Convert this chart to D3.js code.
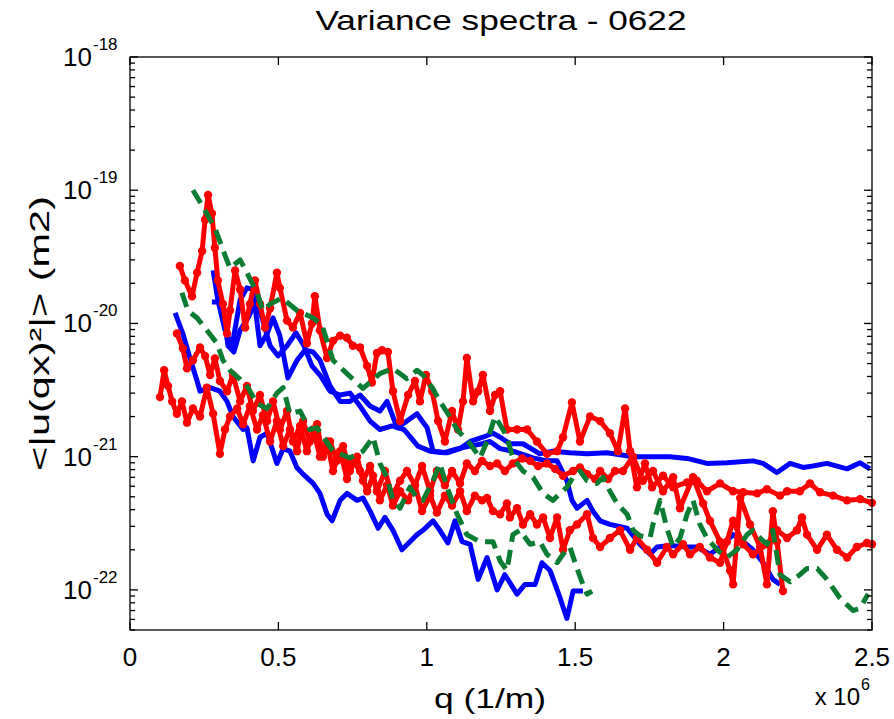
<!DOCTYPE html>
<html lang="en">
<head>
<meta charset="UTF-8">
<title>Variance spectra - 0622</title>
<script src="https://cdn.jsdelivr.net/npm/d3@7"></script>
<style>
  body { margin: 0; background: #fff; }
  text { font-family: "Liberation Sans", Arial, sans-serif; fill: #000; }
</style>
</head>
<body>
<div id="chart"></div>
<script>
// q values are in units of 10^6 1/m, variance in m^2
var qUnit = 1e6;

var blueLow = [[0.152,1.2e-20],[0.178,8.4e-21],[0.202,5.5e-21],[0.226,3.7e-21],[0.236,3.1e-21],[0.270,3.3e-21],[0.303,3.1e-21],[0.327,2.6e-21],[0.347,2.0e-21],[0.381,1.6e-21],[0.394,1.65e-21],[0.415,9.3e-22],[0.438,1.4e-21],[0.462,1.5e-21],[0.495,8.9e-22],[0.516,1.15e-21],[0.539,1.1e-21],[0.562,8.3e-22],[0.583,7.4e-22],[0.617,6.3e-22],[0.640,5.3e-22],[0.664,3.7e-22],[0.681,3.3e-22],[0.708,4.7e-22],[0.731,5.3e-22],[0.765,4.7e-22],[0.785,4.9e-22],[0.809,3.9e-22],[0.836,2.9e-22],[0.859,3.5e-22],[0.886,2.8e-22],[0.916,2.0e-22],[0.943,2.3e-22],[0.967,2.6e-22],[0.987,2.8e-22],[1.021,3.3e-22],[1.044,2.8e-22],[1.071,2.25e-22],[1.095,3.3e-22],[1.119,2.3e-22],[1.146,2.2e-22],[1.173,1.2e-22],[1.203,1.75e-22],[1.237,1.0e-22],[1.263,1.3e-22],[1.304,9.3e-23],[1.331,1.1e-22],[1.365,1.1e-22],[1.388,1.6e-22],[1.415,1.4e-22],[1.449,8.7e-23],[1.472,6.1e-23],[1.493,9.8e-23],[1.526,9.8e-23]];

var blueFlat = [[0.280,2.5e-20],[0.296,1.5e-20],[0.320,8.9e-21],[0.344,6.8e-21],[0.371,1.5e-20],[0.394,1.85e-20],[0.414,1.8e-20],[0.438,6.8e-21],[0.462,8.4e-21],[0.482,1.1e-20],[0.505,8.1e-21],[0.532,3.9e-21],[0.563,5.3e-21],[0.590,6.3e-21],[0.617,6.1e-21],[0.640,5.3e-21],[0.674,3.4e-21],[0.708,2.6e-21],[0.741,2.6e-21],[0.775,2.9e-21],[0.809,2.4e-21],[0.842,2.2e-21],[0.866,2.6e-21],[0.900,1.65e-21],[0.933,1.85e-21],[0.967,2.1e-21],[1.001,1.65e-21],[1.021,1.1e-21],[1.068,1.07e-21],[1.112,1.15e-21],[1.146,1.3e-21],[1.189,1.4e-21],[1.223,1.5e-21],[1.247,1.4e-21],[1.280,1.25e-21],[1.324,1.25e-21],[1.381,1.05e-21],[1.425,1.1e-21],[1.482,1.07e-21],[1.540,1.05e-21],[1.607,1.07e-21],[1.695,1.0e-21],[1.769,1.0e-21],[1.819,1.0e-21],[1.877,9.7e-22],[1.944,8.9e-22],[2.011,9.0e-22],[2.099,9.3e-22],[2.133,8.9e-22],[2.180,7.6e-22],[2.224,8.9e-22],[2.268,8.3e-22],[2.301,8.5e-22],[2.348,8.9e-22],[2.416,8.1e-22],[2.460,9.0e-22],[2.493,8.1e-22]];

var blueMid = [[0.276,1.45e-20],[0.310,1.45e-20],[0.330,6.8e-21],[0.350,6.1e-21],[0.371,8.9e-21],[0.398,1.1e-20],[0.425,1.5e-20],[0.445,1.1e-20],[0.472,6.8e-21],[0.499,5.7e-21],[0.529,6.8e-21],[0.559,8.5e-21],[0.586,6.8e-21],[0.613,4.8e-21],[0.640,4.1e-21],[0.674,3.1e-21],[0.708,2.9e-21],[0.741,3.0e-21],[0.775,2.4e-21],[0.809,1.85e-21],[0.842,1.6e-21],[0.883,1.7e-21],[0.923,1.6e-21],[0.970,1.2e-21],[1.011,1.1e-21],[1.058,1.07e-21],[1.105,1.15e-21],[1.146,1.2e-21],[1.186,1.25e-21],[1.213,1.3e-21],[1.247,1.15e-21],[1.290,1.1e-21],[1.358,9.8e-22],[1.405,9.3e-22],[1.439,9.3e-22],[1.472,6.6e-22],[1.489,4.7e-22],[1.506,4.1e-22],[1.540,4.7e-22],[1.560,3.9e-22],[1.584,3.3e-22],[1.617,3.1e-22],[1.675,2.9e-22],[1.718,2.2e-22],[1.752,1.85e-22],[1.776,2.1e-22],[1.819,2.15e-22],[1.877,2.1e-22],[1.910,2.1e-22],[1.954,1.85e-22],[1.988,2.1e-22],[2.032,2.6e-22],[2.066,2.3e-22],[2.099,2.0e-22],[2.133,1.6e-22],[2.166,1.2e-22],[2.190,1.1e-22]];

var redUpper = [[0.168,2.7e-20],[0.185,2.1e-20],[0.209,1.6e-20],[0.226,2.4e-20],[0.243,3.5e-20],[0.253,6.0e-20],[0.263,9.2e-20],[0.276,6.7e-20],[0.286,3.7e-20],[0.296,2.1e-20],[0.313,1.4e-20],[0.327,8.4e-21],[0.337,1.25e-20],[0.354,2.5e-20],[0.371,1.8e-20],[0.388,9.3e-21],[0.404,1.4e-20],[0.421,2.1e-20],[0.438,1.4e-20],[0.455,9.3e-21],[0.472,1.3e-20],[0.495,2.4e-20],[0.505,1.85e-20],[0.529,1.05e-20],[0.549,9.3e-21],[0.573,1.2e-20],[0.596,7.1e-21],[0.613,1.0e-20],[0.623,1.6e-20],[0.640,8.9e-21],[0.664,5.5e-21],[0.684,7.4e-21],[0.708,8.1e-21],[0.731,7.8e-21],[0.751,6.8e-21],[0.775,6.6e-21],[0.799,4.8e-21],[0.815,3.6e-21],[0.832,6.0e-21],[0.849,6.3e-21],[0.869,6.1e-21],[0.886,3.1e-21],[0.910,1.85e-21],[0.937,2.9e-21],[0.960,3.7e-21],[0.977,2.6e-21],[0.997,4.1e-21],[1.018,3.1e-21],[1.038,1.85e-21],[1.061,1.3e-21],[1.085,2.2e-21],[1.105,1.6e-21],[1.122,2.6e-21],[1.135,5.5e-21],[1.156,2.6e-21],[1.173,3.1e-21],[1.189,4.1e-21],[1.213,2.2e-21],[1.230,2.9e-21],[1.247,3.1e-21],[1.270,1.6e-21],[1.304,1.6e-21],[1.338,1.6e-21],[1.371,1.3e-21],[1.405,1.05e-21],[1.439,1.1e-21],[1.459,1.4e-21],[1.489,2.55e-21],[1.516,1.3e-21],[1.550,2.0e-21],[1.584,1.85e-21],[1.617,1.5e-21],[1.644,1.1e-21],[1.668,2.3e-21],[1.685,1.1e-21],[1.708,5.9e-22],[1.735,8.9e-22],[1.759,5.9e-22],[1.796,7.2e-22],[1.830,5.9e-22],[1.877,6.4e-22],[1.910,6.6e-22],[1.944,5.5e-22],[1.988,6.3e-22],[2.032,5.5e-22],[2.066,5.4e-22],[2.113,5.3e-22],[2.146,5.7e-22],[2.190,5.1e-22],[2.214,5.5e-22],[2.257,5.5e-22],[2.291,6.3e-22],[2.325,5.4e-22],[2.369,5.1e-22],[2.416,4.7e-22],[2.460,4.8e-22],[2.500,4.5e-22]];

var redLow = [[0.101,2.8e-21],[0.115,4.45e-21],[0.128,3.4e-21],[0.142,2.6e-21],[0.158,2.1e-21],[0.175,2.6e-21],[0.192,1.8e-21],[0.212,2.3e-21],[0.236,2.0e-21],[0.259,3.3e-21],[0.280,2.1e-21],[0.303,1.05e-21],[0.320,1.6e-21],[0.337,2.0e-21],[0.361,2.3e-21],[0.381,1.75e-21],[0.404,2.4e-21],[0.428,1.6e-21],[0.448,2.05e-21],[0.472,1.3e-21],[0.495,1.85e-21],[0.516,1.2e-21],[0.539,1.6e-21],[0.563,1.1e-21],[0.583,1.85e-21],[0.606,1.3e-21],[0.630,1.75e-21],[0.650,1.0e-21],[0.674,1.3e-21],[0.697,9.3e-22],[0.718,1.2e-21],[0.741,7.8e-22],[0.765,1.0e-21],[0.785,6.6e-22],[0.809,8.5e-22],[0.832,5.5e-22],[0.859,7.8e-22],[0.883,5.1e-22],[0.910,6.6e-22],[0.933,7.8e-22],[0.960,6.1e-22],[0.984,8.5e-22],[1.011,5.5e-22],[1.034,7.8e-22],[1.061,6.1e-22],[1.085,7.8e-22],[1.112,6.3e-22],[1.135,8.9e-22],[1.162,7.8e-22],[1.186,9.3e-22],[1.213,8.5e-22],[1.237,8.9e-22],[1.263,7.8e-22],[1.290,8.9e-22],[1.321,9.7e-22],[1.348,9.3e-22],[1.375,8.5e-22],[1.405,8.9e-22],[1.432,8.1e-22],[1.459,7.2e-22],[1.493,7.8e-22],[1.516,8.3e-22],[1.540,7.4e-22],[1.567,6.8e-22],[1.584,7.8e-22],[1.611,6.8e-22],[1.634,7.8e-22],[1.661,7.8e-22],[1.695,1.0e-21],[1.728,6.6e-22],[1.762,7.8e-22],[1.796,5.5e-22],[1.830,7.0e-22],[1.853,4.1e-22],[1.897,7.0e-22],[1.931,4.45e-22],[1.954,3.3e-22],[1.988,2.3e-22],[2.022,1.4e-22],[2.032,1.1e-22],[2.056,4.9e-22],[2.089,3.1e-22],[2.123,2.1e-22],[2.146,1.1e-22],[2.166,3.9e-22],[2.180,2.3e-22],[2.200,9.8e-23]];

var redMid = [[0.158,8.4e-21],[0.178,6.5e-21],[0.192,4.6e-21],[0.212,5.3e-21],[0.236,6.6e-21],[0.253,5.7e-21],[0.270,4.1e-21],[0.286,5.45e-21],[0.303,3.7e-21],[0.327,3.1e-21],[0.347,4.1e-21],[0.371,2.6e-21],[0.394,3.4e-21],[0.414,2.2e-21],[0.438,2.9e-21],[0.462,1.85e-21],[0.482,2.6e-21],[0.505,1.6e-21],[0.529,2.2e-21],[0.549,1.3e-21],[0.573,1.7e-21],[0.596,1.1e-21],[0.617,1.6e-21],[0.640,1.0e-21],[0.664,1.3e-21],[0.684,7.8e-22],[0.708,1.1e-21],[0.731,6.8e-22],[0.751,9.3e-22],[0.775,7.8e-22],[0.799,5.5e-22],[0.819,7.2e-22],[0.842,4.7e-22],[0.866,6.1e-22],[0.886,4.3e-22],[0.910,5.5e-22],[0.937,4.7e-22],[0.960,6.1e-22],[0.984,3.9e-22],[1.011,5.1e-22],[1.034,3.8e-22],[1.061,5.1e-22],[1.085,4.3e-22],[1.112,5.5e-22],[1.135,3.9e-22],[1.162,5.1e-22],[1.186,4.7e-22],[1.203,4.9e-22],[1.223,3.9e-22],[1.247,3.7e-22],[1.270,4.45e-22],[1.280,3.5e-22],[1.304,4.1e-22],[1.324,3.1e-22],[1.348,3.7e-22],[1.371,3.1e-22],[1.392,3.5e-22],[1.415,2.45e-22],[1.439,3.5e-22],[1.459,2.0e-22],[1.482,2.8e-22],[1.506,3.1e-22],[1.540,3.7e-22],[1.560,2.45e-22],[1.584,2.1e-22],[1.617,2.45e-22],[1.651,2.8e-22],[1.685,2.0e-22],[1.708,2.45e-22],[1.742,2.0e-22],[1.776,1.6e-22],[1.809,2.1e-22],[1.830,1.85e-22],[1.863,2.2e-22],[1.887,1.85e-22],[1.920,2.1e-22],[1.954,1.75e-22],[1.988,1.6e-22],[2.011,2.3e-22],[2.032,3.3e-22],[2.066,2.2e-22],[2.099,1.85e-22],[2.146,2.2e-22],[2.180,2.8e-22],[2.214,2.45e-22],[2.247,2.8e-22],[2.264,3.5e-22],[2.281,2.6e-22],[2.315,2.0e-22],[2.348,2.6e-22],[2.382,2.0e-22],[2.416,1.75e-22],[2.449,2.1e-22],[2.483,2.25e-22],[2.500,2.2e-22]];

var greenTop = [[0.212,1.0e-19],[0.243,7.7e-20],[0.286,5.2e-20],[0.320,3.25e-20],[0.337,2.6e-20],[0.371,3.0e-20],[0.394,2.4e-20],[0.428,1.7e-20],[0.448,1.25e-20],[0.472,1.4e-20],[0.512,1.55e-20],[0.563,1.25e-20],[0.617,1.1e-20],[0.647,9.7e-21],[0.684,5.3e-21],[0.731,4.2e-21],[0.785,3.25e-21],[0.842,4.2e-21],[0.886,4.6e-21],[0.933,3.85e-21],[0.967,4.45e-21],[0.987,4.1e-21],[1.018,3.3e-21],[1.044,2.6e-21],[1.071,2.1e-21],[1.102,1.6e-21],[1.146,1.25e-21],[1.179,9.8e-22],[1.203,1.3e-21],[1.230,2.0e-21],[1.253,1.65e-21],[1.270,1.4e-21],[1.290,9.8e-22],[1.324,7.8e-22],[1.358,7.0e-22],[1.392,5.3e-22],[1.425,4.7e-22],[1.449,5.3e-22],[1.472,5.9e-22],[1.493,7.0e-22],[1.516,7.8e-22],[1.540,6.6e-22],[1.573,6.3e-22],[1.594,7.0e-22],[1.617,5.5e-22],[1.641,4.45e-22],[1.675,3.7e-22],[1.695,2.8e-22],[1.718,2.55e-22],[1.752,2.45e-22],[1.762,3.1e-22],[1.786,4.7e-22],[1.809,2.9e-22],[1.830,2.1e-22],[1.853,2.45e-22],[1.877,3.7e-22],[1.897,4.7e-22],[1.920,3.1e-22],[1.944,2.45e-22],[1.978,2.0e-22],[2.011,1.75e-22],[2.045,2.0e-22],[2.079,2.6e-22],[2.099,2.8e-22],[2.123,2.45e-22],[2.146,2.2e-22],[2.166,2.8e-22],[2.190,1.3e-22],[2.224,1.15e-22],[2.257,1.3e-22],[2.281,1.45e-22],[2.315,1.45e-22],[2.348,1.2e-22],[2.392,8.7e-23],[2.436,7.0e-23],[2.460,7.3e-23],[2.487,9.3e-23]];

var greenLow = [[0.175,1.7e-20],[0.195,1.25e-20],[0.226,1.1e-20],[0.259,8.9e-21],[0.293,7.1e-21],[0.313,5.3e-21],[0.337,4.45e-21],[0.371,3.8e-21],[0.398,3.3e-21],[0.428,2.5e-21],[0.462,2.3e-21],[0.495,3.0e-21],[0.516,3.3e-21],[0.539,2.1e-21],[0.573,2.2e-21],[0.606,1.6e-21],[0.630,1.65e-21],[0.684,1.1e-21],[0.741,9.8e-22],[0.785,1.1e-21],[0.819,1.4e-21],[0.842,8.9e-22],[0.866,7.0e-22],[0.886,4.7e-22],[0.910,4.1e-22],[0.943,5.9e-22],[0.967,4.9e-22],[0.987,4.7e-22],[1.021,6.6e-22],[1.044,8.9e-22],[1.068,5.9e-22],[1.102,3.7e-22],[1.135,2.6e-22],[1.179,2.3e-22],[1.223,2.3e-22],[1.247,1.65e-22],[1.270,1.4e-22],[1.290,2.6e-22],[1.314,2.8e-22],[1.348,2.2e-22],[1.381,2.3e-22],[1.405,1.85e-22],[1.439,1.6e-22],[1.459,1.85e-22],[1.482,2.1e-22],[1.506,1.45e-22],[1.526,1.1e-22],[1.540,9.3e-23],[1.557,9.8e-23]];

var xTicks = [0, 0.5, 1, 1.5, 2, 2.5];
var yDecades = [-22, -21, -20, -19, -18];

var width = 894, height = 719;
var margin = { top: 57, right: 22, bottom: 89, left: 130 };

var svg = d3.select("#chart").append("svg")
    .attr("width", width)
    .attr("height", height);

var x = d3.scaleLinear()
    .domain([0, 2.5 * qUnit])
    .range([margin.left, width - margin.right]);

var y = d3.scaleLog()
    .domain([5e-23, 1e-18])
    .range([height - margin.bottom, margin.top]);

var line = d3.line()
    .x(function(d) { return x(d[0] * qUnit); })
    .y(function(d) { return y(d[1]); });

// blue solid lines
[blueLow, blueFlat, blueMid].forEach(function(s) {
    svg.append("path")
        .datum(s)
        .attr("d", line)
        .attr("fill", "none")
        .attr("stroke", "#0000ff")
        .attr("stroke-width", 5)
        .attr("stroke-linejoin", "round");
});

// red lines with dot markers
[redLow, redMid, redUpper].forEach(function(s) {
    svg.append("path")
        .datum(s)
        .attr("d", line)
        .attr("fill", "none")
        .attr("stroke", "#ff0000")
        .attr("stroke-width", 5)
        .attr("stroke-linejoin", "round");
    svg.append("g").selectAll("circle")
        .data(s)
        .enter().append("circle")
        .attr("cx", function(d) { return x(d[0] * qUnit); })
        .attr("cy", function(d) { return y(d[1]); })
        .attr("r", 4.2)
        .attr("fill", "#ff0000");
});

// green dashed lines
[greenLow, greenTop].forEach(function(s) {
    svg.append("path")
        .datum(s)
        .attr("d", line)
        .attr("fill", "none")
        .attr("stroke", "#0a7d32")
        .attr("stroke-width", 5)
        .attr("stroke-dasharray", "15,8")
        .attr("stroke-linejoin", "round");
});

// axes box and ticks
var x0 = margin.left, x1 = width - margin.right;
var y0 = height - margin.bottom, y1 = margin.top;
var axes = svg.append("g").attr("stroke", "#000").attr("stroke-width", 1.3);

axes.append("rect")
    .attr("x", x0).attr("y", y1)
    .attr("width", x1 - x0).attr("height", y0 - y1)
    .attr("fill", "none");

xTicks.forEach(function(t) {
    var px = x(t * qUnit);
    axes.append("line").attr("x1", px).attr("x2", px).attr("y1", y0).attr("y2", y0 - 8);
    axes.append("line").attr("x1", px).attr("x2", px).attr("y1", y1).attr("y2", y1 + 8);
    svg.append("text")
        .attr("x", px).attr("y", y0 + 36)
        .attr("text-anchor", "middle")
        .style("font-size", "26px")
        .text(d3.format("")(t));
});

// log ticks: majors at decades, minors at 2..9
var yTicks = y.ticks();
yTicks.forEach(function(t) {
    var py = y(t);
    var e = Math.log10(t);
    var major = Math.abs(e - Math.round(e)) < 1e-6;
    var len = major ? 8 : 5;
    axes.append("line").attr("x1", x0).attr("x2", x0 + len).attr("y1", py).attr("y2", py);
    axes.append("line").attr("x1", x1).attr("x2", x1 - len).attr("y1", py).attr("y2", py);
});

yDecades.forEach(function(k) {
    var py = y(Math.pow(10, k));
    svg.append("text")
        .attr("x", 92).attr("y", py + 9)
        .attr("text-anchor", "end")
        .style("font-size", "26px")
        .text("10");
    svg.append("text")
        .attr("x", 93).attr("y", py - 7)
        .style("font-size", "17px")
        .text("-" + Math.abs(k));
});

// title and labels
svg.append("text")
    .attr("x", (x0 + x1) / 2).attr("y", 30)
    .attr("text-anchor", "middle")
    .attr("textLength", 371)
    .attr("lengthAdjust", "spacingAndGlyphs")
    .style("font-size", "28px")
    .text("Variance spectra - 0622");

svg.append("text")
    .attr("x", 490).attr("y", 708)
    .attr("text-anchor", "middle")
    .attr("textLength", 112)
    .attr("lengthAdjust", "spacingAndGlyphs")
    .style("font-size", "28px")
    .text("q (1/m)");

svg.append("text")
    .attr("x", 860).attr("y", 705)
    .attr("text-anchor", "end")
    .style("font-size", "24px")
    .text("x 10");
svg.append("text")
    .attr("x", 861).attr("y", 690)
    .style("font-size", "16px")
    .text("6");

svg.append("text")
    .attr("transform", "translate(49," + ((y0 + y1) / 2 - 10) + ") rotate(-90)")
    .attr("text-anchor", "middle")
    .attr("textLength", 275)
    .attr("lengthAdjust", "spacingAndGlyphs")
    .style("font-size", "28px")
    .text("<|u(qx)\u00b2|> (m2)");
</script>
</body>
</html>
